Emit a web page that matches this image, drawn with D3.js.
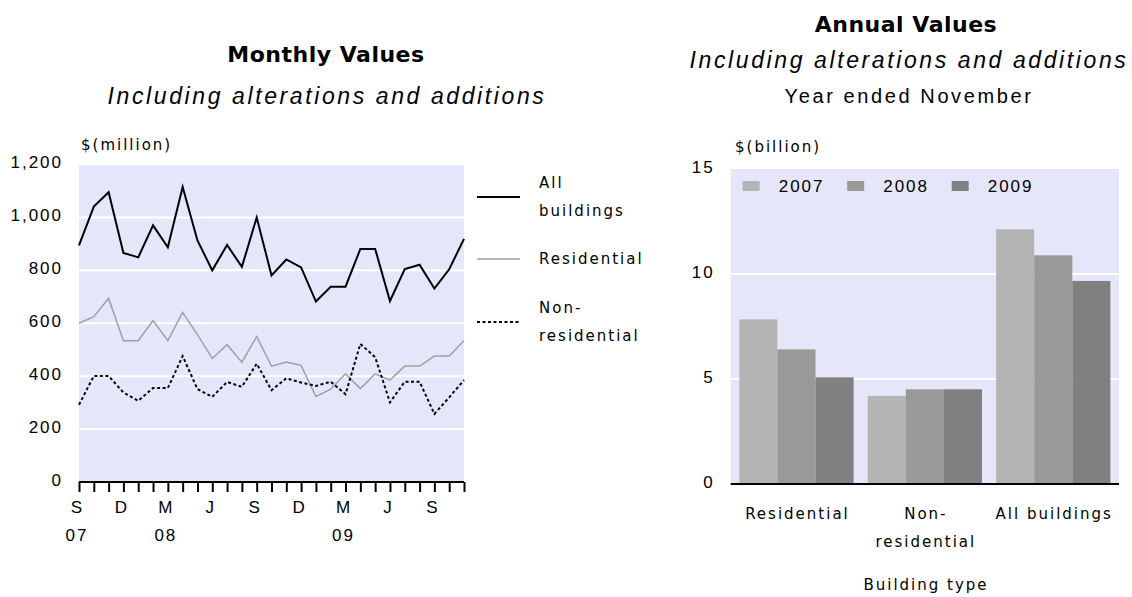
<!DOCTYPE html>
<html>
<head>
<meta charset="utf-8">
<script src="https://cdn.jsdelivr.net/npm/d3@7/dist/d3.min.js"></script>
<style>
body { margin: 0; background: #fff; }
.tick text { font-family: "Liberation Sans", Arial, sans-serif; font-size: 17px; letter-spacing: 2px; fill: #000; }
.lbl { font-family: "DejaVu Sans", Verdana, sans-serif; font-size: 15px; letter-spacing: 2px; fill: #000; }
</style>
</head>
<body>
<div id="chart-area"></div>
<script>
// monthly series, Sep 2007 - Nov 2009 ($ million)
var months = ["2007-09","2007-10","2007-11","2007-12","2008-01","2008-02","2008-03","2008-04","2008-05",
    "2008-06","2008-07","2008-08","2008-09","2008-10","2008-11","2008-12","2009-01","2009-02","2009-03",
    "2009-04","2009-05","2009-06","2009-07","2009-08","2009-09","2009-10","2009-11"];
var monthLetters = ["S","","","D","","","M","","","J","","","S","","","D","","","M","","","J","","","S","",""];
var yearLabels = ["07","","","","","","08","","","","","","","","","","","","09","","","","","","","",""];

var allBuildings = [894,1041,1095,866,849,970,887,1115,913,800,896,813,1000,781,841,811,682,738,738,881,881,684,805,821,731,804,919];
var residential  = [600,625,694,534,534,610,534,641,557,467,519,453,550,438,453,441,323,351,409,353,409,385,438,438,476,476,534];
var nonResidential = [292,401,401,338,307,355,355,476,351,322,378,360,447,347,392,376,363,379,332,522,472,301,379,379,257,320,385];
var monthlyTicks = [0,200,400,600,800,1000,1200];

// annual values, year ended November ($ billion)
var buildingTypes = ["Residential","Non-residential","All buildings"];
var years = ["2007","2008","2009"];
var annual2007 = [7.84, 4.20, 12.13];
var annual2008 = [6.41, 4.51, 10.89];
var annual2009 = [5.08, 4.51, 9.67];
var annualTicks = [0,5,10,15];

var svg = d3.select("#chart-area")
    .append("svg")
        .attr("width", 1132)
        .attr("height", 597);

// ---------- left: monthly values ----------
var left = {x0: 79, x1: 464, y0: 482, y1: 164.5};

var x = d3.scalePoint()
    .domain(months)
    .range([left.x0, left.x1]);

var y = d3.scaleLinear()
    .domain([0, 1200])
    .range([left.y0, left.y1]);

svg.append("rect")
    .attr("x", left.x0)
    .attr("y", y(1200) + 1)
    .attr("width", left.x1 - left.x0)
    .attr("height", y(0) - y(1200) - 1)
    .attr("fill", "#e6e6fa");

svg.append("g").selectAll("line")
    .data(monthlyTicks.filter(d => d > 0 && d < 1200))
    .enter().append("line")
        .attr("x1", left.x0).attr("x2", left.x1)
        .attr("y1", d => y(d)).attr("y2", d => y(d))
        .attr("stroke", "#fff")
        .attr("stroke-width", 2);

var yAxisCall = d3.axisLeft(y)
    .tickValues(monthlyTicks)
    .tickSize(0)
    .tickPadding(16)
    .tickFormat(d3.format(","));

svg.append("g")
    .attr("transform", "translate(" + left.x0 + ",0)")
    .call(yAxisCall)
    .call(g => g.select(".domain").remove())
    .selectAll("text").attr("dy", "0.2em");

var xAxisCall = d3.axisBottom(x)
    .tickSize(10)
    .tickPadding(9)
    .tickFormat((d, i) => monthLetters[i]);

var xAxis = svg.append("g")
    .attr("transform", "translate(0," + left.y0 + ")")
    .call(xAxisCall);
xAxis.select(".domain").attr("d", "M" + left.x0 + ",0H" + left.x1).attr("stroke", "#000").attr("stroke-width", 2);
xAxis.selectAll(".tick line").attr("stroke", "#000").attr("stroke-width", 2);
xAxis.selectAll(".tick text").attr("x", -2);

svg.append("g").selectAll("text")
    .data(months)
    .enter().append("text")
        .attr("class", "tick-year")
        .attr("x", d => x(d) - 2)
        .attr("y", 541)
        .attr("text-anchor", "middle")
        .attr("font-family", "Liberation Sans, Arial, sans-serif")
        .attr("font-size", "17px")
        .attr("letter-spacing", "2px")
        .text((d, i) => yearLabels[i]);

var line = d3.line()
    .x((d, i) => x(months[i]))
    .y(d => y(d));

svg.append("path")
    .datum(residential)
    .attr("d", line)
    .attr("fill", "none")
    .attr("stroke", "#a0a0a0")
    .attr("stroke-width", 1.5);

svg.append("path")
    .datum(nonResidential)
    .attr("d", line)
    .attr("fill", "none")
    .attr("stroke", "#000")
    .attr("stroke-width", 2)
    .attr("stroke-dasharray", "3,2.5");

svg.append("path")
    .datum(allBuildings)
    .attr("d", line)
    .attr("fill", "none")
    .attr("stroke", "#000")
    .attr("stroke-width", 2);

// Y label
svg.append("text")
    .attr("class", "lbl")
    .attr("x", 81)
    .attr("y", 150)
    .text("$(million)");

// legend
var lineLegend = [
    {name: ["All", "buildings"], y: 197, stroke: "#000", width: 2, dash: null},
    {name: ["Residential"], y: 259, stroke: "#a0a0a0", width: 1.5, dash: null},
    {name: ["Non-", "residential"], y: 322, stroke: "#000", width: 2, dash: "3,2.5"}
];
lineLegend.forEach(function(l) {
    svg.append("line")
        .attr("x1", 477).attr("x2", 520)
        .attr("y1", l.y).attr("y2", l.y)
        .attr("stroke", l.stroke)
        .attr("stroke-width", l.width)
        .attr("stroke-dasharray", l.dash);
    var t = svg.append("text").attr("class", "lbl").attr("x", 539);
    var start = l.y + 5 - (l.name.length - 1) * 14;
    l.name.forEach(function(s, i) {
        t.append("tspan").attr("x", 539).attr("y", start + i * 28).text(s);
    });
});

// titles
svg.append("text")
    .attr("x", 326).attr("y", 62)
    .attr("text-anchor", "middle")
    .attr("font-family", "DejaVu Sans, Verdana, sans-serif")
    .attr("font-weight", "bold")
    .attr("font-size", "22px")
    .attr("letter-spacing", "0.5px")
    .text("Monthly Values");

svg.append("text")
    .attr("x", 327).attr("y", 104)
    .attr("text-anchor", "middle")
    .attr("font-family", "Liberation Sans, Arial, sans-serif")
    .attr("font-style", "italic")
    .attr("font-size", "23px")
    .attr("letter-spacing", "2.6px")
    .text("Including alterations and additions");

// ---------- right: annual values ----------
var right = {x0: 730.7, x1: 1119, y0: 484, y1: 169};

var annual = buildingTypes.map(function(b, i) {
    return {type: b, values: [annual2007[i], annual2008[i], annual2009[i]]};
});

var x0 = d3.scaleBand()
    .domain(buildingTypes)
    .range([right.x0, right.x1])
    .paddingInner(0.11)
    .paddingOuter(0.067);

var x1 = d3.scaleBand()
    .domain(years)
    .range([0, x0.bandwidth()]);

var y2 = d3.scaleLinear()
    .domain([0, 15])
    .range([right.y0, right.y1]);

var color = d3.scaleOrdinal()
    .domain(years)
    .range(["#b4b4b4", "#999999", "#808080"]);

svg.append("rect")
    .attr("x", right.x0)
    .attr("y", y2(15))
    .attr("width", right.x1 - right.x0)
    .attr("height", y2(0) - y2(15))
    .attr("fill", "#e6e6fa");

svg.append("g").selectAll("line")
    .data(annualTicks.filter(d => d > 0 && d < 15))
    .enter().append("line")
        .attr("x1", right.x0).attr("x2", right.x1)
        .attr("y1", d => y2(d)).attr("y2", d => y2(d))
        .attr("stroke", "#fff")
        .attr("stroke-width", 2);

var groups = svg.append("g").selectAll("g")
    .data(annual)
    .enter().append("g")
        .attr("transform", d => "translate(" + x0(d.type) + ",0)");

groups.selectAll("rect")
    .data(d => d.values.map((v, i) => ({year: years[i], value: v})))
    .enter().append("rect")
        .attr("x", d => x1(d.year))
        .attr("y", d => y2(d.value))
        .attr("width", x1.bandwidth())
        .attr("height", d => y2(0) - y2(d.value))
        .attr("fill", d => color(d.year));

var y2AxisCall = d3.axisLeft(y2)
    .tickValues(annualTicks)
    .tickSize(0)
    .tickPadding(16);

svg.append("g")
    .attr("transform", "translate(" + right.x0 + ",0)")
    .call(y2AxisCall)
    .call(g => g.select(".domain").remove())
    .selectAll("text").attr("dy", "0.2em");

svg.append("line")
    .attr("x1", right.x0).attr("x2", right.x1)
    .attr("y1", y2(0)).attr("y2", y2(0))
    .attr("stroke", "#000")
    .attr("stroke-width", 2);

// category labels
buildingTypes.forEach(function(b) {
    var parts = b.indexOf("-") > 0 ? [b.slice(0, b.indexOf("-") + 1), b.slice(b.indexOf("-") + 1)] : [b];
    var t = svg.append("text")
        .attr("class", "lbl")
        .attr("text-anchor", "middle");
    parts.forEach(function(p, i) {
        t.append("tspan")
            .attr("x", x0(b) + x0.bandwidth() / 2 + 1)
            .attr("y", 519 + i * 28)
            .text(p);
    });
});

svg.append("text")
    .attr("class", "lbl")
    .attr("x", 926)
    .attr("y", 590)
    .attr("text-anchor", "middle")
    .text("Building type");

svg.append("text")
    .attr("class", "lbl")
    .attr("x", 735)
    .attr("y", 152)
    .text("$(billion)");

// legend
var legend = svg.append("g").selectAll("g")
    .data(years)
    .enter().append("g")
        .attr("transform", (d, i) => "translate(" + (742.7 + i * 104.5) + ",181)");
legend.append("rect")
    .attr("width", 17)
    .attr("height", 10)
    .attr("fill", d => color(d));
legend.append("text")
    .attr("x", 36)
    .attr("y", 11)
    .attr("font-family", "Liberation Sans, Arial, sans-serif")
    .attr("font-size", "17px")
    .attr("letter-spacing", "2px")
    .text(d => d);

// titles
svg.append("text")
    .attr("x", 906).attr("y", 32)
    .attr("text-anchor", "middle")
    .attr("font-family", "DejaVu Sans, Verdana, sans-serif")
    .attr("font-weight", "bold")
    .attr("font-size", "22px")
    .attr("letter-spacing", "0.5px")
    .text("Annual Values");

svg.append("text")
    .attr("x", 909).attr("y", 68)
    .attr("text-anchor", "middle")
    .attr("font-family", "Liberation Sans, Arial, sans-serif")
    .attr("font-style", "italic")
    .attr("font-size", "23px")
    .attr("letter-spacing", "2.6px")
    .text("Including alterations and additions");

svg.append("text")
    .attr("x", 909).attr("y", 103)
    .attr("text-anchor", "middle")
    .attr("font-family", "Liberation Sans, Arial, sans-serif")
    .attr("font-size", "20px")
    .attr("letter-spacing", "2.6px")
    .text("Year ended November");
</script>
</body>
</html>
